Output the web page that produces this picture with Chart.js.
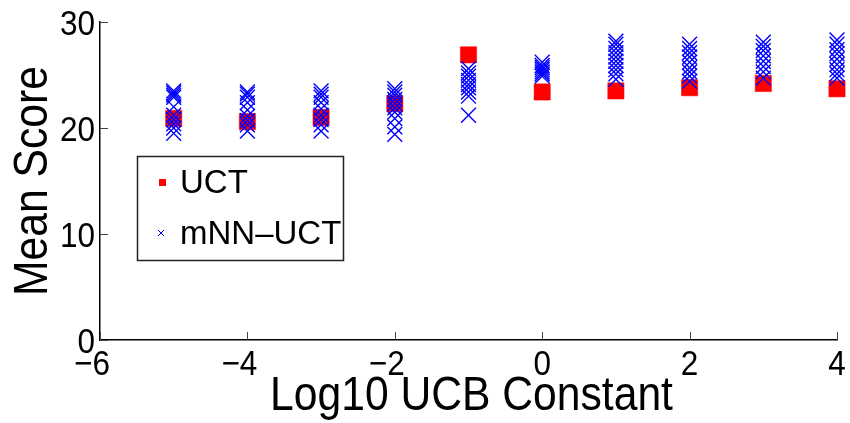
<!DOCTYPE html>
<html>
<head>
<meta charset="utf-8">
<script src="https://cdn.jsdelivr.net/npm/chart.js@4.4.1/dist/chart.umd.min.js"></script>
<style>
  html, body { margin: 0; padding: 0; background: #fff; }
  #wrap { width: 850px; height: 423px; }
</style>
</head>
<body>
<div id="wrap"><canvas id="scoreChart" width="850" height="423"></canvas></div>
<script>
// data
const logConstants = [-5, -4, -3, -2, -1, 0, 1, 2, 3, 4];
const uctScores = [20.9, 20.6, 21.0, 22.3, 26.9, 23.4, 23.5, 23.8, 24.2, 23.7];
const mnnScores = [
    [23.5, 23.3, 23.1, 22.9, 22.0, 21.2, 20.8, 20.4, 20.0, 19.5],
    [23.4, 23.2, 22.9, 22.4, 21.7, 21.1, 20.7, 20.3, 19.7],
    [23.5, 23.2, 22.9, 22.4, 21.8, 21.2, 20.8, 20.3, 19.7],
    [23.7, 23.4, 23.1, 22.7, 22.3, 21.9, 21.5, 20.9, 20.1, 19.4],
    [25.6, 25.2, 24.9, 24.5, 24.1, 23.8, 23.4, 23.0, 21.2],
    [26.2, 25.9, 25.7, 25.5, 25.3, 25.1, 24.9],
    [28.2, 27.9, 27.5, 27.1, 26.7, 26.3, 25.9, 25.5, 25.1, 24.6],
    [27.9, 27.5, 27.1, 26.7, 26.2, 25.7, 25.3, 24.9, 24.4],
    [28.1, 27.7, 27.3, 26.8, 26.3, 25.8, 25.3, 24.7],
    [28.3, 27.9, 27.4, 27.0, 26.5, 26.0, 25.5, 25.1, 24.7]
];
const xTicks = [-6, -4, -2, 0, 2, 4];
const yTicks = [0, 10, 20, 30];
const xTitle = 'Log10 UCB Constant';
const yTitle = 'Mean Score';

const regular = '"Liberation Sans", Arial, sans-serif';

const uctPoints = logConstants.map((x, i) => ({ x: x, y: uctScores[i] }));
const mnnPoints = [];
logConstants.forEach((x, i) => mnnScores[i].forEach(v => mnnPoints.push({ x: x, y: v })));

const fmt = v => (v < 0 ? '\u2212' + Math.abs(v) : String(v));

// matlab's helvetica is narrower than liberation sans, so squash it a bit
function squashText(ctx, text, x, y, sx, align, rot) {
    ctx.save();
    ctx.translate(x, y);
    if (rot) ctx.rotate(rot);
    ctx.scale(sx, 1);
    ctx.textAlign = align;
    ctx.fillText(text, 0, 0);
    ctx.restore();
}

// inward tick marks + tick labels + axis titles
const axisDecor = {
    id: 'axisDecor',
    afterDraw(chart) {
        const { ctx, chartArea, scales } = chart;
        ctx.save();
        ctx.strokeStyle = '#444';
        ctx.lineWidth = 1;
        ctx.beginPath();
        yTicks.forEach(v => {
            const py = Math.round(scales.y.getPixelForValue(v)) + 0.5;
            ctx.moveTo(chartArea.left, py);
            ctx.lineTo(chartArea.left + 8, py);
        });
        xTicks.forEach(v => {
            const px = Math.round(scales.x.getPixelForValue(v)) + 0.5;
            ctx.moveTo(px, chartArea.bottom);
            ctx.lineTo(px, chartArea.bottom - 8);
        });
        ctx.stroke();

        ctx.fillStyle = '#000';
        ctx.textBaseline = 'alphabetic';
        ctx.font = '35px ' + regular;
        yTicks.forEach(v => {
            const py = scales.y.getPixelForValue(v);
            squashText(ctx, fmt(v), chartArea.left - 5, py + 12.5, 0.9, 'right');
        });
        xTicks.forEach(v => {
            const px = scales.x.getPixelForValue(v) - (v < 0 ? 8 : 0);
            squashText(ctx, fmt(v), px, chartArea.bottom + 35, 0.9, 'center');
        });

        ctx.font = '49px ' + regular;
        squashText(ctx, xTitle, (chartArea.left + chartArea.right) / 2 + 3, 410, 0.87, 'center');
        squashText(ctx, yTitle, 47, (chartArea.top + chartArea.bottom) / 2, 0.87, 'center', -Math.PI / 2);
        ctx.restore();
    }
};

// boxed legend inside the plot
const boxLegend = {
    id: 'boxLegend',
    afterDraw(chart) {
        const ctx = chart.ctx;
        const ds = chart.data.datasets;
        ctx.save();
        ctx.fillStyle = '#fff';
        ctx.fillRect(137, 156, 206, 104);
        ctx.strokeStyle = '#222';
        ctx.lineWidth = 1.5;
        ctx.strokeRect(137.5, 156.5, 206, 104);

        ctx.fillStyle = ds[0].backgroundColor;
        ctx.fillRect(159, 179, 7, 7);

        ctx.strokeStyle = ds[1].borderColor;
        ctx.lineWidth = 1;
        ctx.beginPath();
        ctx.moveTo(158, 230); ctx.lineTo(164, 236);
        ctx.moveTo(164, 230); ctx.lineTo(158, 236);
        ctx.stroke();

        ctx.fillStyle = '#000';
        ctx.font = '33px ' + regular;
        ctx.textBaseline = 'middle';
        ctx.fillText(ds[0].label, 180, 184);
        ctx.fillText(ds[1].label, 180, 235);
        ctx.restore();
    }
};

const ctx = document.getElementById('scoreChart').getContext('2d');
const scoreChart = new Chart(ctx, {
    type: 'scatter',
    data: {
        datasets: [{
            label: 'UCT',
            data: uctPoints,
            pointStyle: 'rect',
            radius: 11.5,
            backgroundColor: '#ff0000',
            borderColor: '#ff0000',
            borderWidth: 0.5,
            order: 2,
            clip: false
        }, {
            label: 'mNN\u2013UCT',
            data: mnnPoints,
            pointStyle: 'crossRot',
            radius: 10.5,
            backgroundColor: '#0000ff',
            borderColor: '#0000ff',
            borderWidth: 1.4,
            order: 1,
            clip: false
        }]
    },
    options: {
        responsive: false,
        animation: false,
        events: [],
        layout: { padding: { top: 22, right: 13, left: 0, bottom: 0 } },
        plugins: { legend: { display: false }, tooltip: { enabled: false } },
        scales: {
            x: {
                type: 'linear',
                min: -6, max: 4,
                afterFit: s => { s.height = 83; },
                ticks: { display: false, stepSize: 2 },
                grid: { display: true, drawOnChartArea: false, drawTicks: false },
                border: { display: true, color: '#000', width: 1.5 }
            },
            y: {
                type: 'linear',
                min: 0, max: 30,
                afterFit: s => { s.width = 100; },
                ticks: { display: false, stepSize: 10 },
                grid: { display: true, drawOnChartArea: false, drawTicks: false },
                border: { display: true, color: '#000', width: 1.5 }
            }
        }
    },
    plugins: [axisDecor, boxLegend]
});
</script>
</body>
</html>
